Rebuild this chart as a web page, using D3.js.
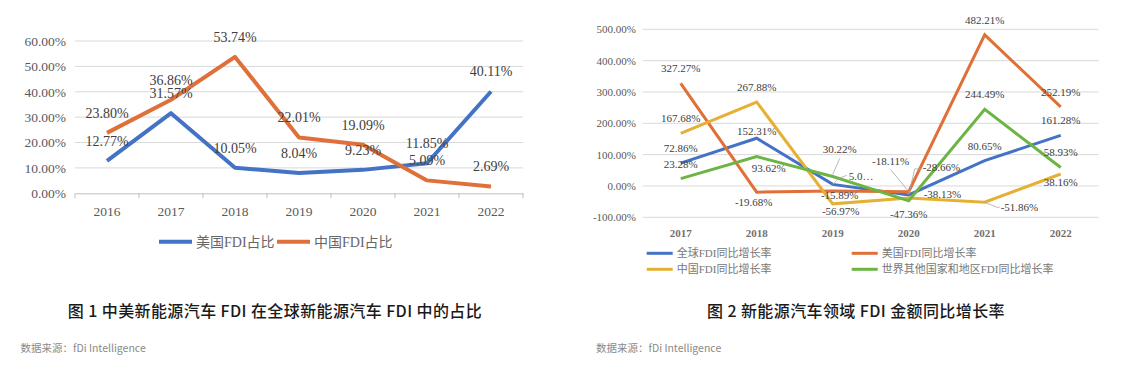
<!DOCTYPE html>
<html>
<head>
<meta charset="utf-8">
<script src="https://d3js.org/d3.v7.min.js"></script>
<style>
  body { margin: 0; background: #fff; }
  svg { display: block; }
</style>
</head>
<body>
<svg width="1126" height="373"></svg>
<script>
// figure 1: share of US / China in global NEV FDI (%)
var years1 = ["2016", "2017", "2018", "2019", "2020", "2021", "2022"];
var usShare = [12.77, 31.57, 10.05, 8.04, 9.23, 11.85, 40.11];
var cnShare = [23.80, 36.86, 53.74, 22.01, 19.09, 5.09, 2.69];
var ticks1 = [0, 10, 20, 30, 40, 50, 60];
var names1 = ["美国FDI占比", "中国FDI占比"];

// figure 2: year-on-year growth of NEV FDI (%)
var years2 = ["2017", "2018", "2019", "2020", "2021", "2022"];
var globalGrowth = [72.86, 152.31, 5.0, -28.66, 80.65, 161.28];
var usGrowth = [327.27, -19.68, -15.89, -18.11, 482.21, 252.19];
var cnGrowth = [167.68, 267.88, -56.97, -38.13, -51.86, 38.16];
var restGrowth = [23.28, 93.62, 30.22, -47.36, 244.49, 58.93];
var ticks2 = [-100, 0, 100, 200, 300, 400, 500];
var names2 = ["全球FDI同比增长率", "美国FDI同比增长率", "中国FDI同比增长率", "世界其他国家和地区FDI同比增长率"];

var blue = "#4472c4", orange = "#e0703a", yellow = "#e6b035", green = "#6cb444";
var serif = "'Liberation Serif', 'Times New Roman', 'Noto Sans CJK SC', serif";
var cjk = "'Noto Sans CJK SC', sans-serif";

var svg = d3.select("svg");
var pct = function(v) { return v.toFixed(2) + "%"; };

// ---------- chart 1 ----------
var x1 = d3.scaleBand().domain(years1).range([75, 523]);
var y1 = d3.scaleLinear().domain([0, 60]).range([193.3, 41]);
var g1 = svg.append("g");

g1.selectAll(".grid").data(ticks1.slice(1)).enter().append("line")
  .attr("x1", 75).attr("x2", 523)
  .attr("y1", function(d) { return y1(d); }).attr("y2", function(d) { return y1(d); })
  .attr("stroke", "#d9d9d9").attr("stroke-width", 1);

var ax1 = g1.append("g").attr("transform", "translate(0," + y1(0) + ")")
  .call(d3.axisBottom(x1).tickSize(0).tickPadding(13));
ax1.select(".domain").attr("stroke", "#bfbfbf");
ax1.selectAll("text").attr("font-family", serif).attr("font-size", 13.5).attr("fill", "#595959");
// category boundary ticks
g1.selectAll(".bt").data(d3.range(years1.length + 1)).enter().append("line")
  .attr("x1", function(i) { return 75 + i * x1.step(); })
  .attr("x2", function(i) { return 75 + i * x1.step(); })
  .attr("y1", y1(0)).attr("y2", y1(0) + 5)
  .attr("stroke", "#bfbfbf");

var ay1 = g1.append("g").attr("transform", "translate(66,0)")
  .call(d3.axisLeft(y1).tickValues(ticks1).tickSize(0).tickPadding(0)
    .tickFormat(function(d) { return d.toFixed(2) + "%"; }));
ay1.select(".domain").remove();
ay1.selectAll("text").attr("font-family", serif).attr("font-size", 13.5).attr("fill", "#595959");

var line1 = d3.line()
  .x(function(d, i) { return x1(years1[i]) + x1.bandwidth() / 2; })
  .y(function(d) { return y1(d); });

[[usShare, blue], [cnShare, orange]].forEach(function(s) {
  g1.append("path").datum(s[0])
    .attr("fill", "none").attr("stroke", s[1]).attr("stroke-width", 4)
    .attr("stroke-linejoin", "round").attr("d", line1);
});
[usShare, cnShare].forEach(function(s) {
  g1.selectAll(null).data(s).enter().append("text")
    .attr("x", function(d, i) { return x1(years1[i]) + x1.bandwidth() / 2; })
    .attr("y", function(d) { return y1(d) - 20; })
    .attr("dy", "0.35em").attr("text-anchor", "middle")
    .attr("font-family", serif).attr("font-size", 14).attr("fill", "#404040")
    .text(pct);
});

// legend 1
var leg1 = [[159, blue], [277, orange]];
leg1.forEach(function(l, i) {
  g1.append("line").attr("x1", l[0]).attr("x2", l[0] + 33)
    .attr("y1", 241.7).attr("y2", 241.7).attr("stroke", l[1]).attr("stroke-width", 4);
  g1.append("text").attr("x", l[0] + 37).attr("y", 241.7).attr("dy", "0.35em")
    .attr("font-family", serif).attr("font-size", 14).attr("fill", "#666")
    .text(names1[i]);
});

// ---------- chart 2 ----------
var x2 = d3.scaleBand().domain(years2).range([642.7, 1098.7]);
var y2 = d3.scaleLinear().domain([-100, 500]).range([217.3, 29.3]);
var g2 = svg.append("g");

g2.selectAll(".grid").data(ticks2).enter().append("line")
  .attr("x1", 642.7).attr("x2", 1098.7)
  .attr("y1", function(d) { return y2(d); }).attr("y2", function(d) { return y2(d); })
  .attr("stroke", "#d9d9d9").attr("stroke-width", 1);

var ax2 = g2.append("g").attr("transform", "translate(0," + y2(-100) + ")")
  .call(d3.axisBottom(x2).tickSize(0).tickPadding(12));
ax2.select(".domain").remove();
ax2.selectAll("text").attr("font-family", serif).attr("font-size", 11)
  .attr("font-weight", "bold").attr("fill", "#707070");

var ay2 = g2.append("g").attr("transform", "translate(636,0)")
  .call(d3.axisLeft(y2).tickValues(ticks2).tickSize(0).tickPadding(0)
    .tickFormat(function(d) { return d.toFixed(2) + "%"; }));
ay2.select(".domain").remove();
ay2.selectAll("text").attr("font-family", serif).attr("font-size", 11).attr("fill", "#595959");

var cx2 = function(i) { return x2(years2[i]) + x2.bandwidth() / 2; };
var line2 = d3.line()
  .x(function(d, i) { return cx2(i); })
  .y(function(d) { return y2(d); });

var series2 = [[globalGrowth, blue], [usGrowth, orange], [cnGrowth, yellow], [restGrowth, green]];
series2.forEach(function(s) {
  g2.append("path").datum(s[0])
    .attr("fill", "none").attr("stroke", s[1]).attr("stroke-width", 3)
    .attr("stroke-linejoin", "miter").attr("d", line2);
});

// label offsets (dx, dy from point, anchor) per series and year
var off2 = [
  [[0, -15], [0, -7], [16, -8, "start"], [14, -28, "start"], [0, -15], [0, -15]],
  [[0, -15], [-3, 10], [7, 4], [-18, -30], [0, -15], [0, -15]],
  [[0, -15], [0, -15], [8, 7], [15, -4, "start"], [16, 5, "start"], [0, 8]],
  [[0, -15], [12, 12], [7, -27], [0, 13], [0, -15], [0, -15]]
];
var leaders = [
  [[globalGrowth, 2], [[0, 0], [6, -6], [14, -9]]],
  [[usGrowth, 3], [[0, 0], [-18, -22]]],
  [[globalGrowth, 3], [[0, 0], [6, -26], [13, -26]]],
  [[cnGrowth, 4], [[0, 0], [12, 5], [15, 5]]],
  [[restGrowth, 2], [[0, -2], [7, -18]]]
];
leaders.forEach(function(l) {
  var px = cx2(l[0][1]), py = y2(l[0][0][l[0][1]]);
  g2.append("path")
    .attr("d", d3.line()(l[1].map(function(p) { return [px + p[0], py + p[1]]; })))
    .attr("fill", "none").attr("stroke", "#a6a6a6").attr("stroke-width", 0.8);
});
series2.forEach(function(s, k) {
  g2.selectAll(null).data(s[0]).enter().append("text")
    .attr("x", function(d, i) { return cx2(i) + off2[k][i][0]; })
    .attr("y", function(d, i) { return y2(d) + off2[k][i][1]; })
    .attr("dy", "0.35em")
    .attr("text-anchor", function(d, i) { return off2[k][i][2] || "middle"; })
    .attr("font-family", serif).attr("font-size", 11).attr("fill", "#404040")
    .text(function(d, i) { return (k === 0 && i === 2) ? "5.0…" : pct(d); });
});

// legend 2
var leg2 = [[646.7, 253.3], [851.7, 253.3], [646.7, 269.3], [851.7, 269.3]];
leg2.forEach(function(l, i) {
  g2.append("line").attr("x1", l[0]).attr("x2", l[0] + 26)
    .attr("y1", l[1]).attr("y2", l[1]).attr("stroke", series2[i][1]).attr("stroke-width", 3);
  g2.append("text").attr("x", l[0] + 30).attr("y", l[1]).attr("dy", "0.35em")
    .attr("font-family", serif).attr("font-size", 11).attr("fill", "#777")
    .text(names2[i]);
});

// ---------- captions ----------
svg.append("text").attr("x", 275).attr("y", 311).attr("dy", "0.35em")
  .attr("text-anchor", "middle").attr("font-family", cjk).attr("font-size", 16)
  .attr("font-weight", 500).attr("letter-spacing", 0.4).attr("fill", "#1a1a1a")
  .text("图 1  中美新能源汽车 FDI 在全球新能源汽车 FDI 中的占比");
svg.append("text").attr("x", 856).attr("y", 311).attr("dy", "0.35em")
  .attr("text-anchor", "middle").attr("font-family", cjk).attr("font-size", 16)
  .attr("font-weight", 500).attr("letter-spacing", 0.4).attr("fill", "#1a1a1a")
  .text("图 2  新能源汽车领域 FDI 金额同比增长率");
[20.5, 596].forEach(function(x) {
  svg.append("text").attr("x", x).attr("y", 348).attr("dy", "0.35em")
    .attr("font-family", cjk).attr("font-size", 10.5).attr("fill", "#8a8a8a")
    .text("数据来源：fDi Intelligence");
});
</script>
</body>
</html>
